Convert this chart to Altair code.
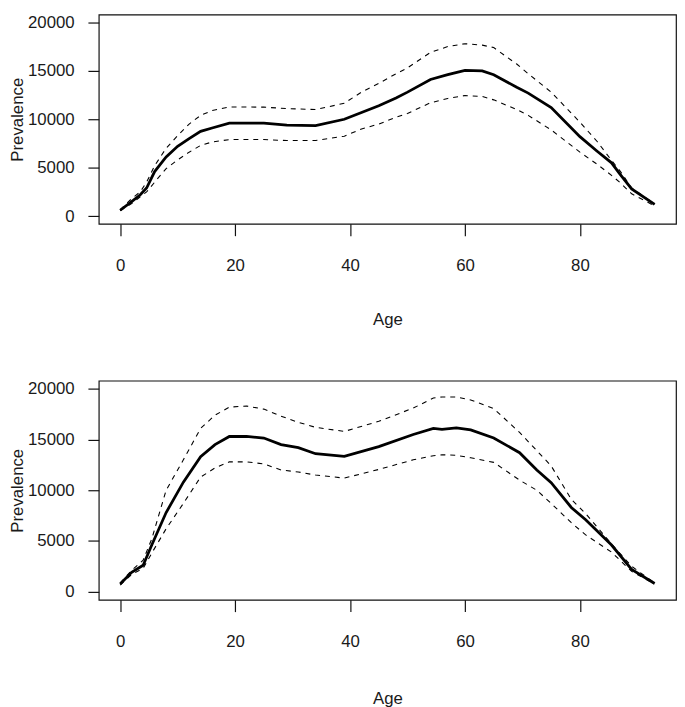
import altair as alt
import pandas as pd

# Top panel
age_a = [0, 2, 3.5, 4.6, 6, 8, 10, 12, 14, 16, 19, 25, 29, 34, 39, 42, 45, 48, 50, 54, 57, 60, 63, 65, 69, 71, 75, 80, 83, 85.5, 87, 89, 93]
mean_a = [600, 1500, 2200, 2900, 4600, 6100, 7200, 8000, 8750, 9100, 9600, 9600, 9400, 9350, 10000, 10700, 11400, 12200, 12800, 14100, 14600, 15050, 15000, 14600, 13300, 12700, 11200, 8200, 6700, 5500, 4300, 2800, 1200]
upper_a = [650, 1800, 2500, 3500, 5200, 7000, 8300, 9500, 10400, 10900, 11270, 11250, 11100, 11000, 11650, 12800, 13700, 14700, 15300, 16900, 17500, 17800, 17650, 17400, 15700, 14700, 12800, 9700, 7700, 5750, 4650, 2900, 1250]
lower_a = [550, 1300, 2000, 2500, 3500, 4900, 5800, 6600, 7300, 7650, 7900, 7900, 7800, 7800, 8250, 9000, 9500, 10200, 10600, 11700, 12150, 12450, 12350, 12000, 11000, 10400, 8900, 6600, 5350, 4200, 3450, 2300, 1050]

# Bottom panel
age_b = [0, 2, 4, 5.5, 8, 11, 14, 16.5, 19, 22, 25, 28, 31, 34, 39, 45, 51, 54.5, 56, 58.5, 61, 65, 69.5, 72.5, 75, 78.5, 81, 85.5, 89, 93]
mean_b = [750, 1900, 2600, 4600, 7800, 10800, 13300, 14500, 15300, 15300, 15150, 14500, 14200, 13600, 13350, 14300, 15500, 16100, 16000, 16150, 15950, 15150, 13700, 12000, 10750, 8300, 7100, 4600, 2200, 800]
upper_b = [850, 2100, 3100, 5200, 10000, 13000, 16100, 17400, 18200, 18300, 18000, 17300, 16700, 16200, 15800, 16800, 18100, 19100, 19200, 19200, 18900, 18050, 15700, 13900, 12400, 9100, 7700, 4700, 2500, 850]
lower_b = [650, 1700, 2300, 3800, 6200, 8700, 11300, 12200, 12800, 12800, 12600, 12000, 11800, 11500, 11200, 12050, 13000, 13400, 13500, 13450, 13200, 12750, 11000, 10000, 8700, 6800, 5600, 3900, 2000, 750]

x_ticks = [0, 20, 40, 60, 80]
y_ticks = [0, 5000, 10000, 15000, 20000]

FONT = "Liberation Sans"
TXT = "#1a1a1a"
INK = "#111111"


def panel(ages, mean, upper, lower, h, tpad):
    df = pd.DataFrame({"Age": ages, "mean": mean, "upper": upper, "lower": lower})
    x = alt.X("Age:Q",
              scale=alt.Scale(domain=[-3.72, 96.72], nice=False, zero=False),
              axis=alt.Axis(values=x_ticks, title="Age", grid=False, domain=False, format="d",
                            tickSize=12, tickColor=INK, tickWidth=1.2,
                            labelFontSize=17, labelFont=FONT, labelColor=TXT, labelPadding=22,
                            titleFontSize=17, titleFont=FONT, titleColor=TXT,
                            titleFontWeight="normal", titlePadding=tpad))
    yscale = alt.Scale(domain=[-800, 20800], nice=False, zero=False)
    yaxis = alt.Axis(values=y_ticks, title="Prevalence", grid=False, domain=False, format="d",
                     tickSize=11, tickColor=INK, tickWidth=1.2,
                     labelFontSize=17, labelFont=FONT, labelColor=TXT, labelPadding=14,
                     titleFontSize=17, titleFont=FONT, titleColor=TXT,
                     titleFontWeight="normal", titlePadding=1)
    base = alt.Chart(df)
    m = base.mark_line(color="black", strokeWidth=2.8).encode(
        x=x, y=alt.Y("mean:Q", scale=yscale, axis=yaxis))
    u = base.mark_line(color="black", strokeWidth=1.1, strokeDash=[5, 5]).encode(
        x=x, y=alt.Y("upper:Q", scale=yscale, axis=yaxis))
    l = base.mark_line(color="black", strokeWidth=1.1, strokeDash=[5, 5]).encode(
        x=x, y=alt.Y("lower:Q", scale=yscale, axis=yaxis))
    return alt.layer(u, l, m).properties(
        width=585, height=h,
        view=alt.ViewBackground(stroke=INK, strokeWidth=1.2, fill="white"),
    )


chart = alt.vconcat(
    panel(age_a, mean_a, upper_a, lower_a, 212, 39),
    panel(age_b, mean_b, upper_b, lower_b, 222, 42),
    spacing=51,
).properties(
    padding=0,
    background="white",
).configure_view(stroke=INK, strokeWidth=1.2)

chart.save("out.html", embed_options={"renderer": "svg", "actions": False})
